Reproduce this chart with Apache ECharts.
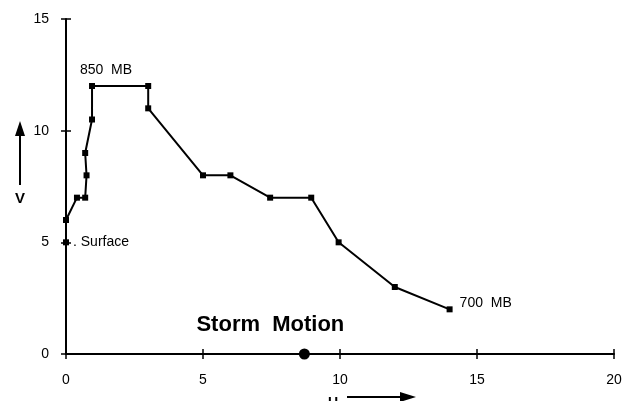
<!DOCTYPE html>
<html><head><meta charset="utf-8">
<script src="https://cdn.jsdelivr.net/npm/echarts@6/dist/echarts.min.js"></script>
<style>html,body{margin:0;padding:0;background:#fff}#c{width:631px;height:401px}</style>
</head><body><div id="c"></div>
<script>
const uValues = [0, 0, 0.4, 0.7, 0.75, 0.7, 0.95, 0.95, 3, 3, 5, 6, 7.45, 8.95, 9.95, 12, 14];
const vValues = [5, 6, 7, 7, 8, 9, 10.5, 12, 12, 11, 8, 8, 7, 7, 5, 3, 2];
const pointNotes = {0: 'Surface', 7: '850  MB', 16: '700  MB'};
const stormMotion = [8.7, 0];
const stormLabel = 'Storm  Motion';
const xTicks = [0, 5, 10, 15, 20];
const yTicks = [0, 5, 10, 15];

const font = 'Liberation Sans, Arial, sans-serif';
const chart = echarts.init(document.getElementById('c'), null, {renderer: 'canvas'});

const hodo = uValues.map((u, i) => {
  const item = {value: [u, vValues[i]]};
  if (pointNotes[i]) {
    const cfg = {show: true, formatter: pointNotes[i], color: '#000', fontFamily: font, fontSize: 14, textBorderWidth: 0};
    if (i === 0) Object.assign(cfg, {position: 'right', distance: 10, formatter: '. ' + pointNotes[i], offset: [-6, 0]});
    if (i === 7) Object.assign(cfg, {position: 'top', distance: 6, offset: [14, 0]});
    if (i === 16) Object.assign(cfg, {position: 'right', distance: 7, offset: [0, -6]});
    item.label = cfg;
  }
  return item;
});

const axisCommon = {
  type: 'value', min: 0,
  axisLine: {show: true, lineStyle: {color: '#000', width: 2}},
  splitLine: {show: false}
};

chart.setOption({
  animation: false,
  backgroundColor: '#fff',
  grid: {left: 66, right: 17, top: 19, bottom: 47, containLabel: false, outerBoundsMode: 'none'},
  xAxis: [
    Object.assign({}, axisCommon, {
      max: 20, interval: 5, position: 'bottom',
      axisTick: {show: true, inside: false, length: 5, lineStyle: {color: '#000', width: 1.5}},
      axisLabel: {color: '#000', fontFamily: font, fontSize: 14, margin: 19,
        customValues: xTicks},
      name: 'U', nameLocation: 'middle', nameGap: 42,
      nameTextStyle: {color: '#000', fontFamily: font, fontSize: 14, fontWeight: 'bold', padding: [0, 14, 0, 0]}
    }),
    Object.assign({}, axisCommon, {
      max: 20, interval: 5, position: 'bottom', offset: 0,
      axisLine: {show: false},
      axisTick: {show: true, inside: true, length: 5, lineStyle: {color: '#000', width: 1.5}},
      axisLabel: {show: false}
    })
  ],
  yAxis: [
    Object.assign({}, axisCommon, {
      max: 15, interval: 5, position: 'left',
      axisTick: {show: true, inside: false, length: 5, lineStyle: {color: '#000', width: 1.5}},
      axisLabel: {color: '#000', fontFamily: font, fontSize: 14, margin: 17,
        customValues: yTicks},
      name: '\nV', nameLocation: 'middle', nameGap: 41, nameRotate: 0,
      nameTextStyle: {color: '#000', fontFamily: font, fontSize: 15, fontWeight: 'bold', lineHeight: 24}
    }),
    Object.assign({}, axisCommon, {
      max: 15, interval: 5, position: 'left', offset: 0,
      axisLine: {show: false},
      axisTick: {show: true, inside: true, length: 5, lineStyle: {color: '#000', width: 1.5}},
      axisLabel: {show: false}
    })
  ],
  series: [
    {
      type: 'line', data: hodo, xAxisIndex: 0, yAxisIndex: 0,
      symbol: 'rect', symbolSize: 6, showAllSymbol: true,
      lineStyle: {color: '#000', width: 2},
      itemStyle: {color: '#000'},
      emphasis: {disabled: true},
      z: 3
    },
    {
      type: 'scatter', data: [{value: stormMotion, label: {
        show: true, formatter: stormLabel, position: 'top', distance: 13, offset: [-34, 0],
        color: '#000', fontFamily: font, fontSize: 22, fontWeight: 'bold', textBorderWidth: 0}}],
      symbol: 'circle', symbolSize: 11, itemStyle: {color: '#000', opacity: 1},
      emphasis: {disabled: true}, z: 4
    }
  ],
  graphic: [
    {type: 'line', shape: {x1: 20, y1: 134, x2: 20, y2: 185}, style: {stroke: '#000', lineWidth: 2}},
    {type: 'polygon', shape: {points: [[20, 121], [15, 136], [25, 136]]}, style: {fill: '#000'}},
    {type: 'line', shape: {x1: 347, y1: 397, x2: 402, y2: 397}, style: {stroke: '#000', lineWidth: 2}},
    {type: 'polygon', shape: {points: [[416, 397], [400, 392], [400, 402]]}, style: {fill: '#000'}}
  ]
});
</script></body></html>
